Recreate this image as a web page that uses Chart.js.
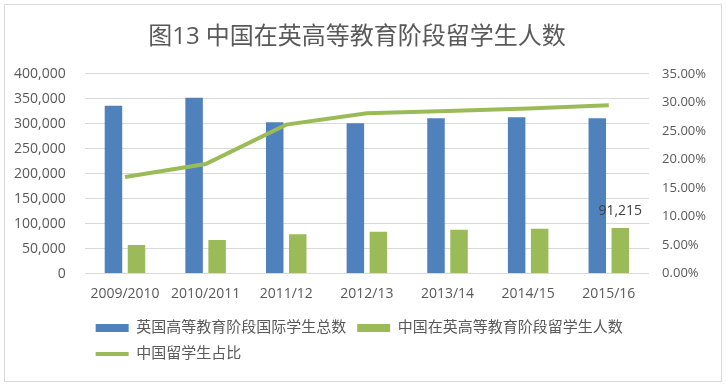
<!DOCTYPE html>
<html>
<head>
<meta charset="utf-8">
<script src="https://cdn.jsdelivr.net/npm/chart.js@4"></script>
<style>
  body { margin: 0; background: #fff; }
  #box {
    position: absolute; left: 4px; top: 4px;
    width: 716px; height: 376px;
    border: 1px solid #d9d9d9;
  }
</style>
</head>
<body>
<div id="box"><canvas id="ukChart"></canvas></div>
<script>
const years = ["2009/2010", "2010/2011", "2011/12", "2012/13", "2013/14", "2014/15", "2015/16"];
const intlTotal = [336000, 352000, 303000, 301000, 311000, 313000, 311000];
const chinaCount = [56990, 67325, 78715, 83790, 87895, 89540, 91215];
const chinaShare = [0.169, 0.192, 0.261, 0.281, 0.285, 0.289, 0.295];

const tickFont = { family: '"Open Sans", sans-serif', size: 14 };
const cjkFont = '"Open Sans", "Noto Sans CJK SC", sans-serif';

// value label over the last green bar
const lastLabel = {
  id: "lastLabel",
  afterDatasetsDraw(chart) {
    const meta = chart.getDatasetMeta(1);
    const i = chinaCount.length - 1;
    const bar = meta.data[i];
    const ctx = chart.ctx;
    ctx.save();
    ctx.font = '14px "Open Sans", sans-serif';
    ctx.fillStyle = "#404040";
    ctx.textAlign = "center";
    ctx.textBaseline = "middle";
    ctx.fillText(chinaCount[i].toLocaleString("en-US"), bar.x, bar.y - 17);
    ctx.restore();
  },
};

const data = {
  labels: years,
  datasets: [
    {
      label: "英国高等教育阶段国际学生总数",
      data: intlTotal,
      backgroundColor: "#4f81bd",
      yAxisID: "y",
      order: 1,
      categoryPercentage: 0.571,
      barPercentage: 0.76,
    },
    {
      label: "中国在英高等教育阶段留学生人数",
      data: chinaCount,
      backgroundColor: "#9bbb59",
      yAxisID: "y",
      order: 1,
      categoryPercentage: 0.571,
      barPercentage: 0.76,
    },
    {
      type: "line",
      label: "中国留学生占比",
      data: chinaShare,
      borderColor: "#9bbb59",
      backgroundColor: "#9bbb59",
      borderWidth: 4,
      pointRadius: 0,
      tension: 0,
      yAxisID: "y1",
      order: 0,
    },
  ],
};

const config = {
  type: "bar",
  data: data,
  plugins: [lastLabel],
  options: {
    responsive: true,
    maintainAspectRatio: false,
    animation: false,
    // ticks padding counts twice in the axis width, so the left side goes negative
    layout: { padding: { left: -10, right: 2, top: 4, bottom: 9.5 } },
    plugins: {
      title: {
        display: true,
        text: "图13 中国在英高等教育阶段留学生人数",
        color: "#595959",
        font: { family: cjkFont, size: 24, weight: "normal" },
        padding: { top: 14, bottom: 22 },
      },
      legend: {
        position: "bottom",
        align: "start",
        fullSize: false,
        labels: {
          color: "#595959",
          font: { family: cjkFont, size: 15 },
          usePointStyle: true,
          pointStyleWidth: 33,
          boxHeight: 8,
          padding: 11,
          sort: (a, b) => a.datasetIndex - b.datasetIndex,
          generateLabels(chart) {
            const items = Chart.defaults.plugins.legend.labels.generateLabels(chart);
            items.forEach((it) => {
              const ds = chart.data.datasets[it.datasetIndex];
              it.pointStyle = ds.type === "line" ? "line" : "rect";
            });
            return items;
          },
        },
      },
      tooltip: { enabled: false },
    },
    scales: {
      x: {
        grid: { display: false, tickLength: 5 },
        border: { display: false },
        ticks: {
          color: "#595959",
          font: { family: tickFont.family, size: 14, lineHeight: 2.07 },
          padding: 1,
          maxRotation: 0,
        },
      },
      y: {
        position: "left",
        min: 0,
        max: 400000,
        grid: { color: "#d9d9d9", drawTicks: false },
        border: { display: false },
        ticks: {
          stepSize: 50000,
          color: "#595959",
          font: tickFont,
          padding: 19,
          callback: (v) => v.toLocaleString("en-US"),
        },
      },
      y1: {
        position: "right",
        min: 0,
        max: 0.35,
        grid: { drawOnChartArea: false, drawTicks: false },
        border: { display: false },
        ticks: {
          stepSize: 0.05,
          color: "#595959",
          font: { family: tickFont.family, size: 13 },
          padding: 13,
          callback: (v) => (v * 100).toFixed(2) + "%",
        },
      },
    },
  },
};

const ukChart = new Chart(document.getElementById("ukChart"), config);
</script>
</body>
</html>
